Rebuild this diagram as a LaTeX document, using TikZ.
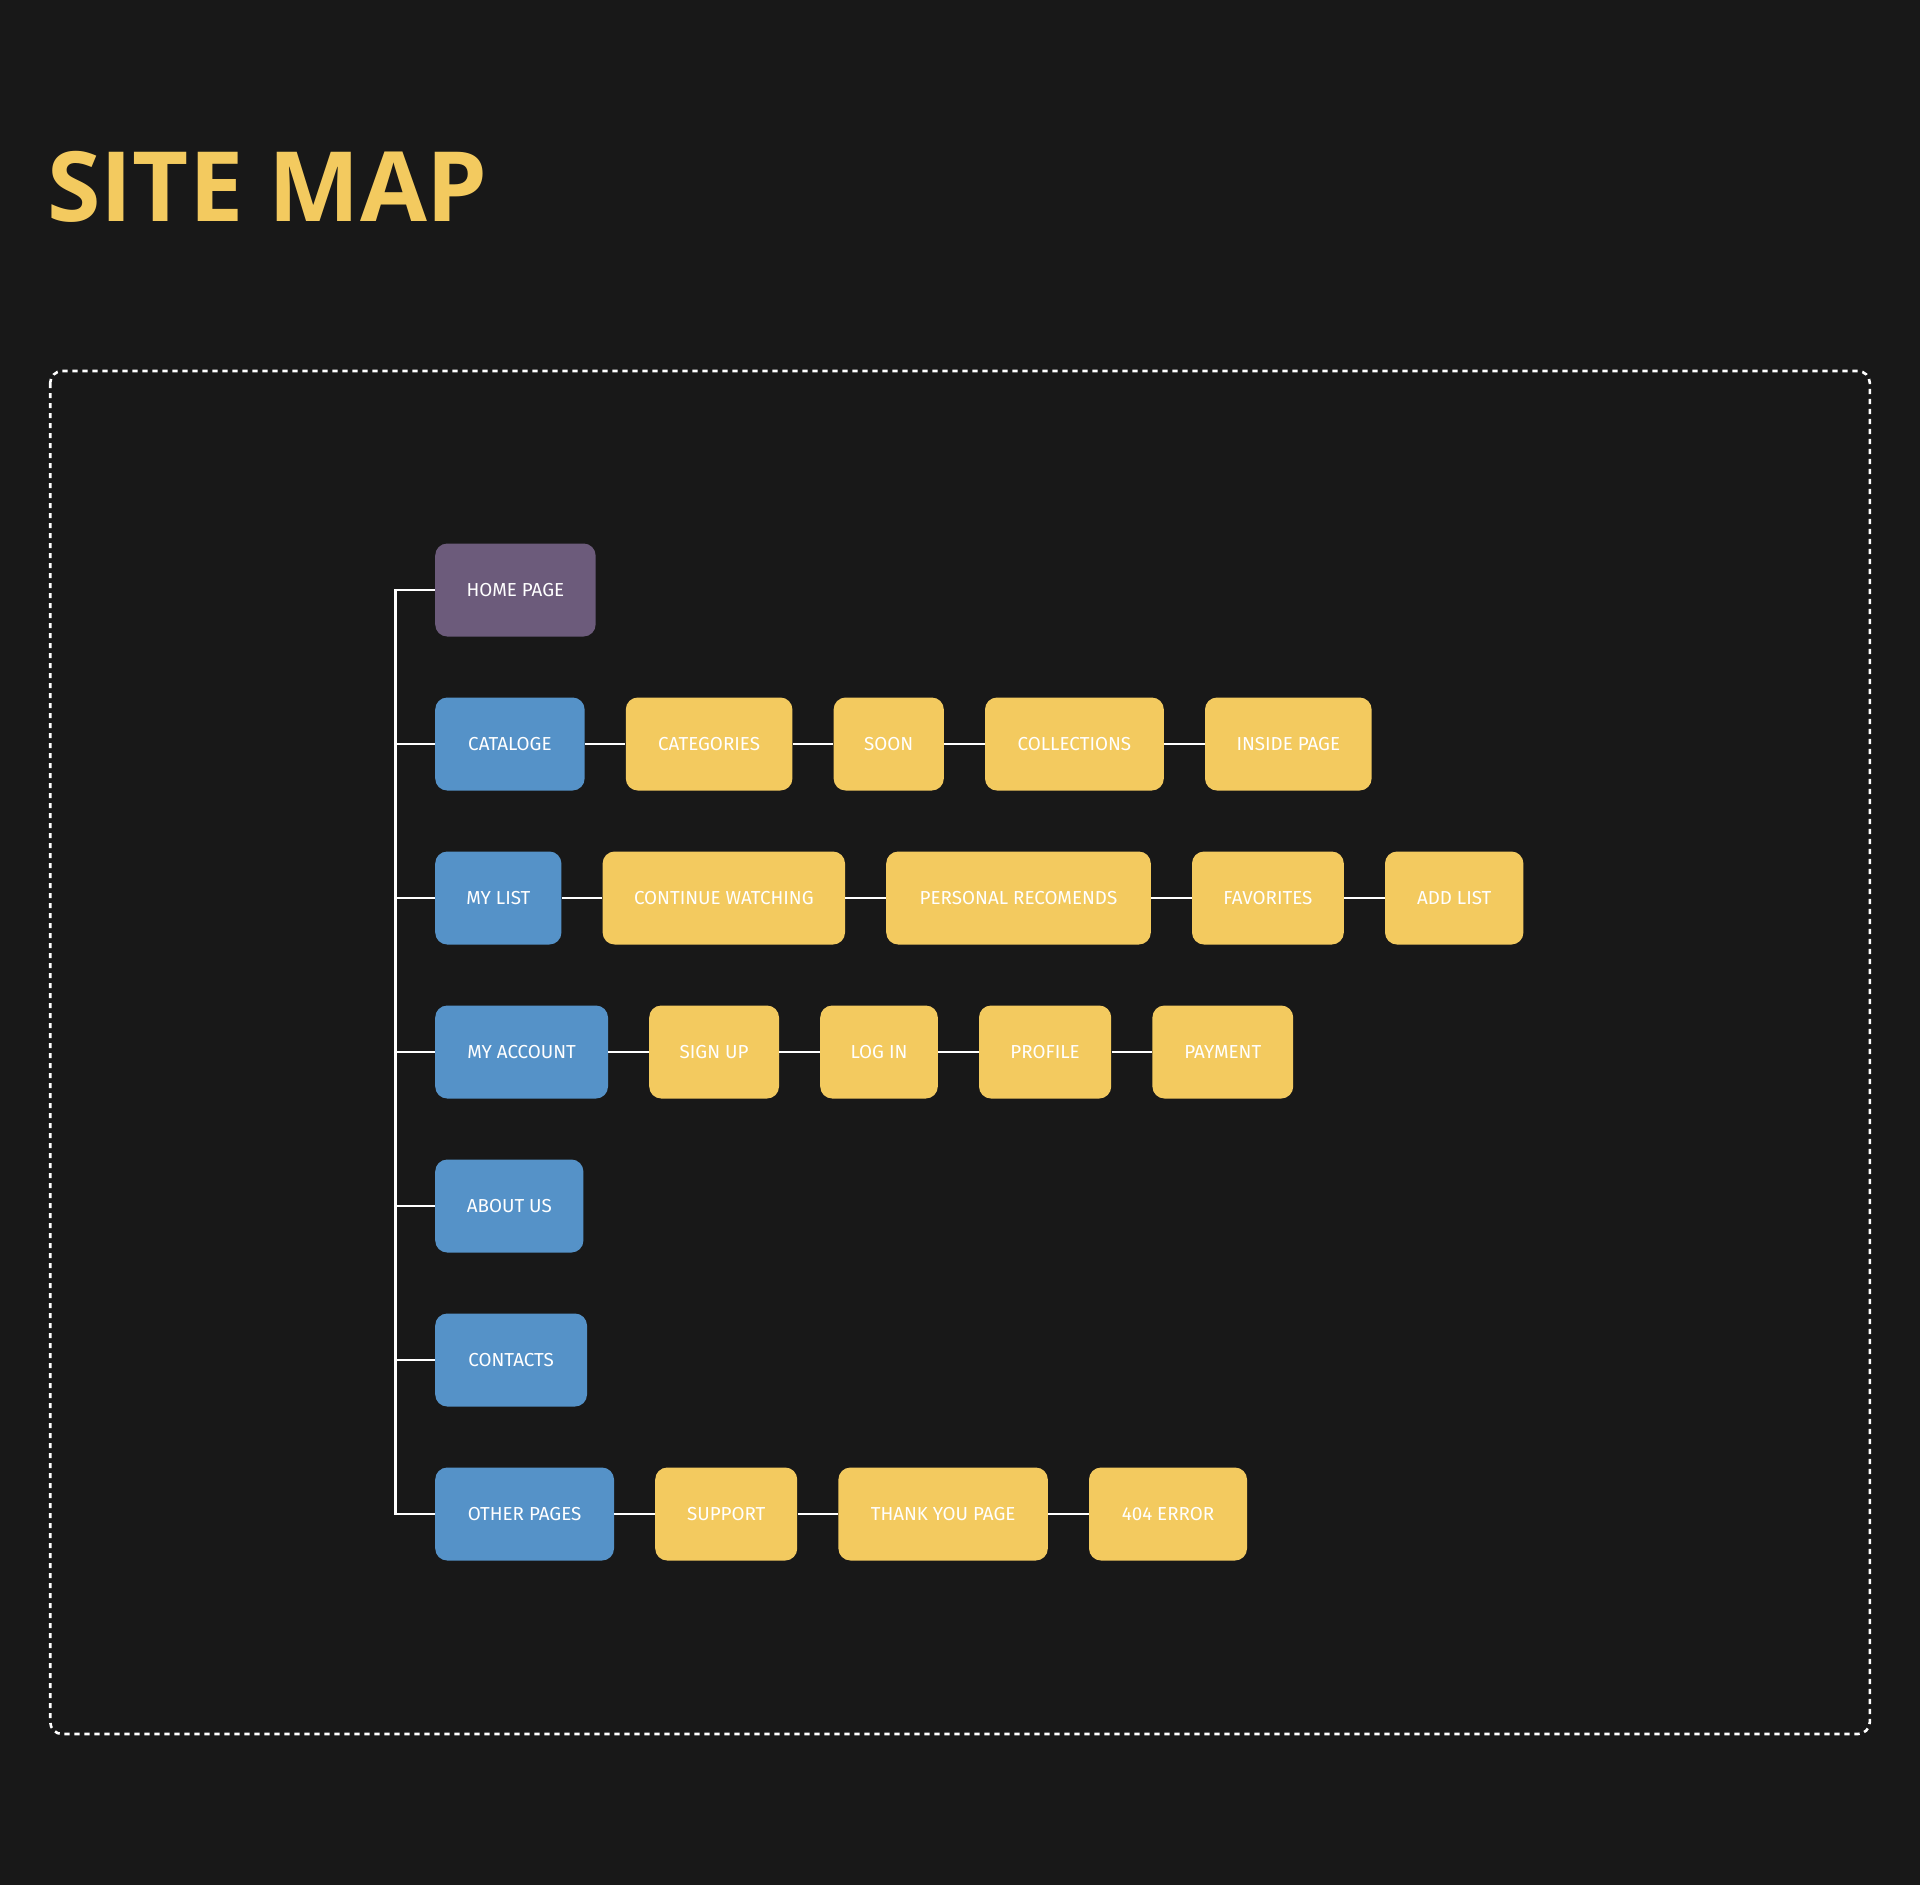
\documentclass[tikz,border=0pt]{standalone}
\usepackage{fontspec}
\setmainfont{Fira Sans}
\newfontfamily\titlefont{Open Sans}
\usetikzlibrary{positioning}
\definecolor{bgc}{HTML}{181818}
\definecolor{purp}{HTML}{6C5B7B}
\definecolor{bluec}{HTML}{5592C8}
\definecolor{yel}{HTML}{F3CA5F}
\tikzset{
  pagebox/.style={rounded corners=6pt, minimum height=46.5pt, inner sep=0pt,
     text=white, font=\fontsize{9.4}{11}\selectfont, align=center},
  rootbox/.style={pagebox, fill=purp},
  secbox/.style={pagebox, fill=bluec},
  subbox/.style={pagebox, fill=yel},
  link/.style={draw=white, line width=1.4pt},
}
\begin{document}
\begin{tikzpicture}[x=1pt,y=-1pt, node distance=20.2pt]
\useasboundingbox (0,0) rectangle (960,942.5);
\fill[bgc] (0,0) rectangle (960,942.5);
\node[anchor=base west, text=yel, inner sep=0pt, font=\titlefont\bfseries\fontsize{48.5}{60}\selectfont] (title) at (23.5,110.8) {SITE MAP};
\draw[white, line width=1.3pt, dash pattern=on 2.6pt off 2.4pt, rounded corners=6pt] (25.1,185.5) rectangle (934.9,867);
% column 1
\node[rootbox, anchor=west, minimum width=80.2pt] (home) at (217.4,295) {HOME PAGE};
\node[secbox, anchor=west, minimum width=74.7pt] (cat) at (217.4,372) {CATALOGE};
\node[secbox, anchor=west, minimum width=63.1pt] (list) at (217.4,449) {MY LIST};
\node[secbox, anchor=west, minimum width=86.4pt] (acc) at (217.4,526) {MY ACCOUNT};
\node[secbox, anchor=west, minimum width=74.1pt] (about) at (217.4,603) {ABOUT US};
\node[secbox, anchor=west, minimum width=75.9pt] (cont) at (217.4,680) {CONTACTS};
\node[secbox, anchor=west, minimum width=89.4pt] (other) at (217.4,757) {OTHER PAGES};
% catalog row
\node[subbox, right=of cat, minimum width=83.3pt] (categ) {CATEGORIES};
\node[subbox, right=of categ, minimum width=55.1pt] (soon) {SOON};
\node[subbox, right=of soon, minimum width=89.4pt] (coll) {COLLECTIONS};
\node[subbox, right=of coll, minimum width=83.3pt] (inside) {INSIDE PAGE};
% my list row
\node[subbox, right=of list, minimum width=121.2pt] (contw) {CONTINUE WATCHING};
\node[subbox, right=of contw, minimum width=132.3pt] (pers) {PERSONAL RECOMENDS};
\node[subbox, right=of pers, minimum width=75.9pt] (fav) {FAVORITES};
\node[subbox, right=of fav, minimum width=69.2pt] (add) {ADD LIST};
% account row
\node[subbox, right=of acc, minimum width=64.9pt] (sign) {SIGN UP};
\node[subbox, right=of sign, minimum width=58.8pt] (login) {LOG IN};
\node[subbox, right=of login, minimum width=66.1pt] (prof) {PROFILE};
\node[subbox, right=of prof, minimum width=70.4pt] (pay) {PAYMENT};
% other row
\node[subbox, right=of other, minimum width=71pt] (supp) {SUPPORT};
\node[subbox, right=of supp, minimum width=104.7pt] (thank) {THANK YOU PAGE};
\node[subbox, right=of thank, minimum width=79pt] (err) {404 ERROR};
% trunk
\coordinate (trk) at (197.75,0);
\draw[link, line join=miter] (home.west) -- (home.west -| trk) -- (other.west -| trk) -- (other.west);
\foreach \n in {cat,list,acc,about,cont}{
  \draw[link] (\n.west) -- (\n.west -| trk);
}
% row links
\draw[link] (cat) -- (categ) (categ) -- (soon) (soon) -- (coll) (coll) -- (inside);
\draw[link] (list) -- (contw) (contw) -- (pers) (pers) -- (fav) (fav) -- (add);
\draw[link] (acc) -- (sign) (sign) -- (login) (login) -- (prof) (prof) -- (pay);
\draw[link] (other) -- (supp) (supp) -- (thank) (thank) -- (err);
\end{tikzpicture}
\end{document}
